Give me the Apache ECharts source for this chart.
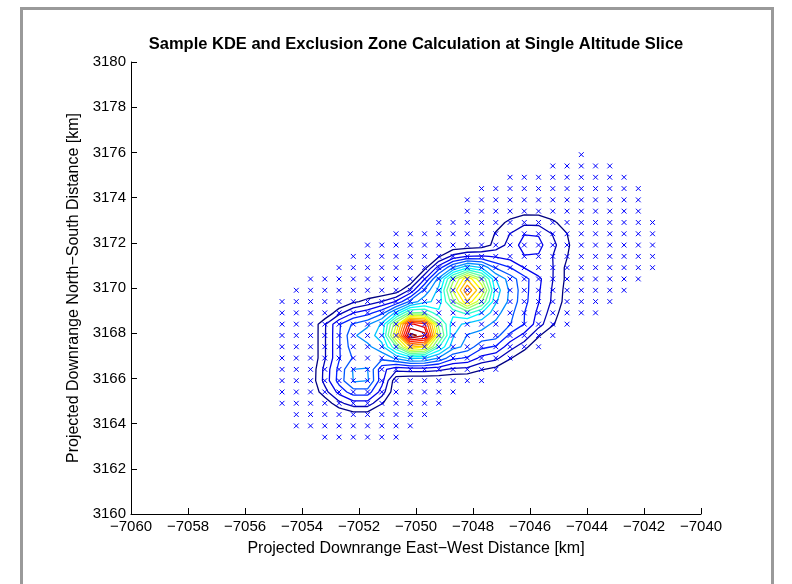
<!DOCTYPE html>
<html><head><meta charset="utf-8">
<script src="https://cdn.jsdelivr.net/npm/echarts@6/dist/echarts.min.js"></script>
<style>html,body{margin:0;padding:0;background:#fff}#c{width:792px;height:584px}</style>
</head><body><div id="c"></div>
<script>
const titleText = 'Sample KDE and Exclusion Zone Calculation at Single Altitude Slice';
const xAxisName = 'Projected Downrange East\u2212West Distance [km]';
const yAxisName = 'Projected Downrange North\u2212South Distance [km]';
const xRange = [-7060, -7040];
const yRange = [3160, 3180];
const tickStep = 2;

// evaluation grid (km): x = gridX0 + i*gridStep, y = gridY0 + j*gridStep
const gridX0 = -7054.7;
const gridY0 = 3163.4;
const gridStep = 0.5;

// grid points shown as markers: for each row j, first and last column index
const markerRowStart = [3,1,1,0,0,0,0,0,0,0,0,0,0,1,2,4,5,6,8,11,13,13,14,16,19,21];
const markerRowEnd   = [8,9,10,11,12,14,15,16,18,19,20,22,23,24,25,26,26,26,26,26,25,25,25,24,23,21];

// estimated KDE value at the grid nodes (in contour-level units), rows j = 0..21, cols i = 0..22
const densityRows = [
  [0,0,0,0,0,0,0,0,0,0,0,0,0,0,0,0,0,0,0,0,0,0,0],
  [0,0,0,0,0,0,0,0,0,0,0,0,0,0,0,0,0,0,0,0,0,0,0],
  [0,0,0,0,0,0.5,0.5,0,0,0,0,0,0,0,0,0,0,0,0,0,0,0,0],
  [0,0,0,0.3,1.7,2.6,2.6,1.1,0,0,0,0,0,0,0,0,0,0,0,0,0,0,0],
  [0,0,0.1,1.6,3.35,4.55,4.55,2.55,0.1,0,0,0,0,0,0,0,0,0,0,0,0,0,0],
  [0,0,0.25,2.35,4.4,6.18,6.18,3.4,0.25,0,0,0,0,0,0,0,0,0,0,0,0,0,0],
  [0,0,0.2,2.3,4.3,6.1,6.1,3.35,2.32,2.5,2.48,2.27,1.77,1.66,1.08,0.68,0,0,0,0,0,0,0],
  [0,0,0,1.9,3.9,5.1,5.15,5.29,6.17,7.27,7.12,5.92,4.22,3.86,2.68,2.28,1.13,0.09,0,0,0,0,0],
  [0,0,0,1.9,3.9,5.6,5.75,6.7,9.9,14.2,13.5,9.1,6.4,5.67,4.28,3.88,2.43,1.39,0,0,0,0,0],
  [0,0,0,1.9,3.9,5.85,6.5,7.5,13.2,20.4,19.5,11.6,7.07,5.93,5.73,5.48,3.73,2.69,1.13,0,0,0,0],
  [0,0,0,1.88,3.86,5.18,5.8,7.17,11.8,18.2,17.4,10.67,7.35,6.77,6.3,5.8,5.05,3.99,2.43,1.13,0,0,0],
  [0,0,0,0,1.66,2.98,3.59,4.73,7.29,10.35,10.12,8.28,8.35,9.3,8.05,6.35,5.35,4.02,2.75,1.5,0.25,0,0],
  [0,0,0,0,0,0.78,1.33,2.03,3.09,5.25,6.65,7.4,10.7,13.9,11.1,7.15,5.74,4.31,3.06,1.81,0.56,0,0],
  [0,0,0,0,0,0,0,0,0.34,2.2,5.24,7.3,12.1,15.9,13.0,7.55,5.82,4.38,3.13,1.88,0.63,0,0],
  [0,0,0,0,0,0,0,0,0,0,2.91,6.42,10.6,13.9,11.1,7.03,5.52,4.36,3.25,2.02,0.75,0,0],
  [0,0,0,0,0,0,0,0,0,0,0.63,3.5,6.11,7.89,7.03,4.83,4.04,2.96,2.26,2.03,0.75,0,0],
  [0,0,0,0,0,0,0,0,0,0,0,0.84,2.31,3.04,3.13,2.88,2.54,2.95,2.9,1.99,1.04,0,0],
  [0,0,0,0,0,0,0,0,0,0,0,0,0.12,0.18,0.36,1.36,2.38,3.43,3.32,2.27,1.22,0,0],
  [0,0,0,0,0,0,0,0,0,0,0,0,0,0,0,1.1,2.02,2.95,2.9,1.93,1.02,0,0],
  [0,0,0,0,0,0,0,0,0,0,0,0,0,0,0,0.55,1.26,1.7,1.67,1.2,0.47,0,0],
  [0,0,0,0,0,0,0,0,0,0,0,0,0,0,0,0,0.35,0.66,0.65,0.31,0,0,0],
  [0,0,0,0,0,0,0,0,0,0,0,0,0,0,0,0,0,0,0,0,0,0,0]
];

const contourLevels = [1,2,3,4,5,6,7,8,9,10,11,12,13,14,15,16,17,18,19,20];

// ---------- helpers ----------
function clamp01(v){ return Math.max(0, Math.min(1, v)); }
function jet(t){
  const r = clamp01(1.5 - Math.abs(4*t - 3));
  const g = clamp01(1.5 - Math.abs(4*t - 2));
  const b = clamp01(1.5 - Math.abs(4*t - 1));
  return 'rgb(' + Math.round(r*255) + ',' + Math.round(g*255) + ',' + Math.round(b*255) + ')';
}

function contourLines(grid, level){
  const rows = grid.length, cols = grid[0].length;
  const segs = [];
  for (let j = 0; j < rows - 1; j++){
    for (let i = 0; i < cols - 1; i++){
      const v0 = grid[j][i], v1 = grid[j][i+1], v2 = grid[j+1][i+1], v3 = grid[j+1][i];
      const idx = (v0 > level ? 1 : 0) | (v1 > level ? 2 : 0) | (v2 > level ? 4 : 0) | (v3 > level ? 8 : 0);
      if (idx === 0 || idx === 15) continue;
      const E = function(e){
        let t;
        if (e === 0){ t = (level - v0)/(v1 - v0); return {key:'h'+i+','+j, x:i+t, y:j}; }
        if (e === 1){ t = (level - v1)/(v2 - v1); return {key:'v'+(i+1)+','+j, x:i+1, y:j+t}; }
        if (e === 2){ t = (level - v3)/(v2 - v3); return {key:'h'+i+','+(j+1), x:i+t, y:j+1}; }
        t = (level - v0)/(v3 - v0); return {key:'v'+i+','+j, x:i, y:j+t};
      };
      const center = (v0 + v1 + v2 + v3)/4;
      let pairs;
      switch (idx){
        case 1: case 14: pairs = [[3,0]]; break;
        case 2: case 13: pairs = [[0,1]]; break;
        case 3: case 12: pairs = [[3,1]]; break;
        case 4: case 11: pairs = [[1,2]]; break;
        case 6: case 9: pairs = [[0,2]]; break;
        case 7: case 8: pairs = [[3,2]]; break;
        case 5: pairs = center > level ? [[0,1],[2,3]] : [[3,0],[1,2]]; break;
        case 10: pairs = center > level ? [[3,0],[1,2]] : [[0,1],[2,3]]; break;
      }
      pairs.forEach(function(p){ segs.push({a:E(p[0]), b:E(p[1])}); });
    }
  }
  const map = new Map();
  segs.forEach(function(s, k){
    [s.a.key, s.b.key].forEach(function(key){
      if (!map.has(key)) map.set(key, []);
      map.get(key).push(k);
    });
  });
  const used = new Array(segs.length).fill(false);
  const lines = [];
  for (let k = 0; k < segs.length; k++){
    if (used[k]) continue;
    used[k] = true;
    const line = [segs[k].a, segs[k].b];
    let cur = segs[k].b.key;
    while (true){
      const nx = map.get(cur).find(function(m){ return !used[m]; });
      if (nx === undefined) break;
      used[nx] = true;
      const s = segs[nx];
      const nxt = s.a.key === cur ? s.b : s.a;
      line.push(nxt); cur = nxt.key;
    }
    cur = segs[k].a.key;
    while (true){
      const nx = map.get(cur).find(function(m){ return !used[m]; });
      if (nx === undefined) break;
      used[nx] = true;
      const s = segs[nx];
      const nxt = s.a.key === cur ? s.b : s.a;
      line.unshift(nxt); cur = nxt.key;
    }
    lines.push(line.map(function(p){ return [gridX0 + p.x*gridStep, gridY0 + p.y*gridStep]; }));
  }
  return lines;
}

// ---------- series ----------
const series = [];
const nLev = contourLevels.length;
contourLevels.forEach(function(lev, n){
  const color = jet(n/(nLev - 1));
  contourLines(densityRows, lev).forEach(function(pts){
    series.push({
      type: 'line', data: pts, showSymbol: false, symbol: 'none', silent: true,
      lineStyle: {color: color, width: 1.3}, z: 2, animation: false, clip: true
    });
  });
});

const markerData = [];
markerRowStart.forEach(function(s, j){
  for (let i = s; i <= markerRowEnd[j]; i++){
    markerData.push([+(gridX0 + i*gridStep).toFixed(2), +(gridY0 + j*gridStep).toFixed(2)]);
  }
});
series.push({
  type: 'custom', data: markerData, z: 3, silent: true, animation: false,
  renderItem: function(params, api){
    const p = api.coord([api.value(0), api.value(1)]);
    const s = 2.4;
    return {type: 'group', children: [
      {type: 'line', shape: {x1: p[0]-s, y1: p[1]-s, x2: p[0]+s, y2: p[1]+s}, style: {stroke: '#0000ff', lineWidth: 1}},
      {type: 'line', shape: {x1: p[0]-s, y1: p[1]+s, x2: p[0]+s, y2: p[1]-s}, style: {stroke: '#0000ff', lineWidth: 1}}
    ]};
  }
});

const FONT = "'Liberation Sans', Arial, Helvetica, sans-serif";
const minus = function(v){ return String(v).replace('-', '\u2212'); };

const chart = echarts.init(document.getElementById('c'), null, {renderer: 'canvas'});
chart.setOption({
  animation: false,
  backgroundColor: '#fff',
  grid: {left: 131, top: 62, width: 570, height: 452, containLabel: false},
  xAxis: {
    type: 'value', min: xRange[0], max: xRange[1], interval: tickStep,
    name: xAxisName, nameLocation: 'middle', nameGap: 27,
    nameTextStyle: {color: '#000', fontSize: 16, fontFamily: FONT},
    axisLine: {show: true, onZero: false, lineStyle: {color: '#000', width: 1}},
    axisTick: {show: true, inside: true, length: 6, lineStyle: {color: '#000'}},
    axisLabel: {color: '#000', fontSize: 15, fontFamily: FONT, margin: 5, formatter: minus},
    splitLine: {show: false}
  },
  yAxis: {
    type: 'value', min: yRange[0], max: yRange[1], interval: tickStep,
    name: yAxisName, nameLocation: 'middle', nameGap: 42,
    nameTextStyle: {color: '#000', fontSize: 16, fontFamily: FONT},
    axisLine: {show: true, onZero: false, lineStyle: {color: '#000', width: 1}},
    axisTick: {show: true, inside: true, length: 6, lineStyle: {color: '#000'}},
    axisLabel: {color: '#000', fontSize: 15, fontFamily: FONT, margin: 5, formatter: function(v){ return String(v); }},
    splitLine: {show: false}
  },
  graphic: [
    {type: 'rect', silent: true, z: 0, shape: {x: 21.5, y: 8.5, width: 751, height: 640},
     style: {fill: 'none', stroke: '#9a9a9a', lineWidth: 3}},
    {type: 'text', silent: true, x: 416, y: 44.5,
     style: {text: titleText, fill: '#000', font: 'bold 16.5px ' + FONT, textAlign: 'center', textVerticalAlign: 'middle'}}
  ],
  series: series
});
</script></body></html>
